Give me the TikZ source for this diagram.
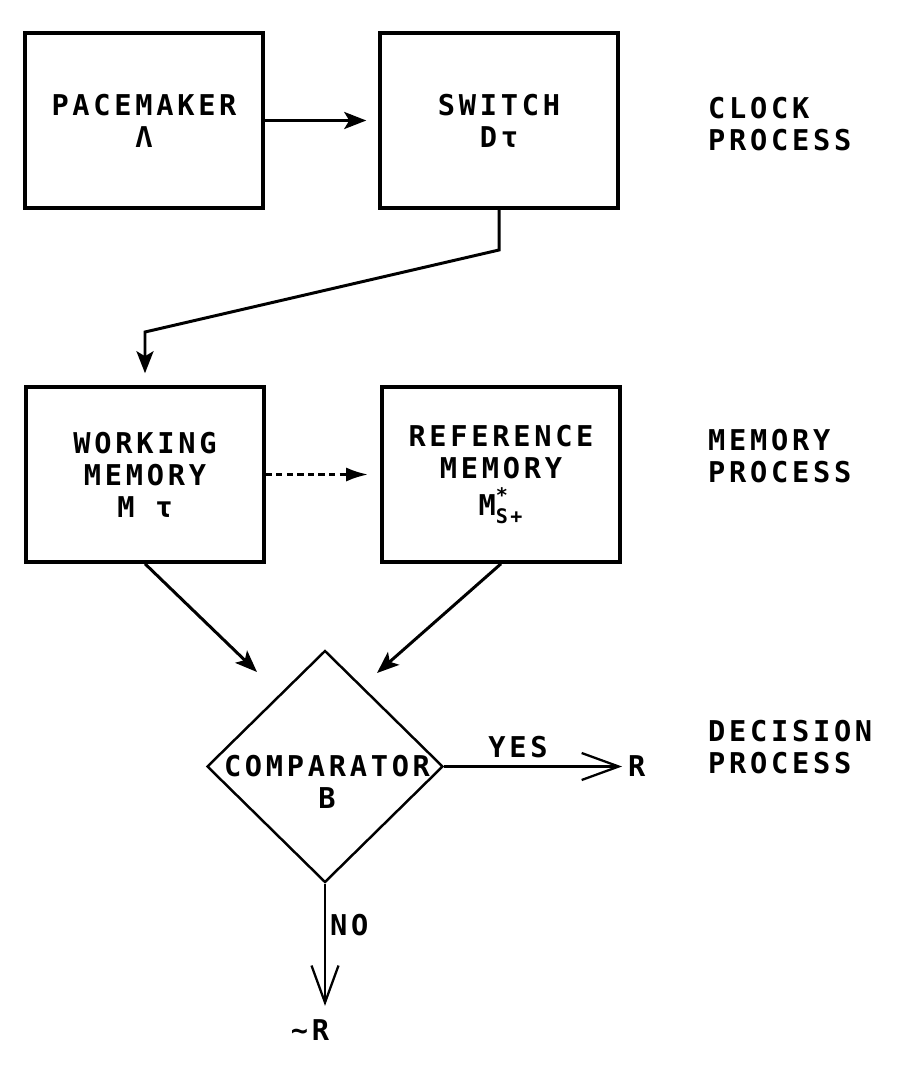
\documentclass[tikz,border=0pt]{standalone}
\usepackage{amsmath}
\usepackage{fontspec}
\setmainfont{DejaVu Sans Mono}[LetterSpace=13]
\usepackage{tikz}
\usetikzlibrary{arrows.meta,shapes.geometric,positioning}
\newcommand{\plotfont}{\fontsize{16.3}{18.2}\selectfont\bfseries}
\begin{document}
\begin{tikzpicture}[>=Stealth,
  box/.style={draw,line width=2pt,minimum width=4.76cm,minimum height=3.5cm,inner sep=0pt,align=center,font=\plotfont},
  lbl/.style={anchor=west,align=left,font=\plotfont},
  arr/.style={line width=1.7pt,-{Stealth[length=0.44cm,width=0.34cm,inset=0.1cm]}},
  barb/.style={line width=1.3pt,-{Straight Barb[length=0.74cm,width=0.54cm]}}]
\useasboundingbox (0,0) rectangle (18.04,-21.48);
\node[box] (pace) at (2.88,-2.41) {PACEMAKER\\Λ};
\node[box] (sw) at (9.98,-2.41) {SWITCH\\Dτ};
\node[lbl] (clk) at (14.04,-2.48) {CLOCK\\PROCESS};
\node[box] (wm) at (2.9,-9.49) {WORKING\\MEMORY\\M τ};
\node[box] (rm) at (10.02,-9.49) {REFERENCE\\MEMORY\\[3pt]$\text{M}^{\text{*}}_{\text{S+}}$};
\node[lbl] (mem) at (14.04,-9.13) {MEMORY\\PROCESS};
\node[draw,diamond,line width=1.4pt,minimum width=4.72cm,minimum height=4.64cm,inner sep=0pt] (cmp) at (6.5,-15.33) {};
\node[align=center,font=\plotfont] (cmptxt) at (6.54,-15.64) {COMPARATOR\\B};
\node[lbl] (dec) at (14.04,-14.95) {DECISION\\PROCESS};
\node[anchor=west,font=\plotfont] (yesR) at (12.44,-15.33) {R};
\node[font=\plotfont] (yes) at (10.36,-14.94) {YES};
\node[anchor=west,font=\plotfont] (no) at (6.48,-18.5) {NO};
\node[font=\plotfont] (notR) at (6.2,-20.6) {\textasciitilde R};
\coordinate (k1) at (9.98,-5.0);
\coordinate (k2) at (2.9,-6.64);
\coordinate (inL) at (5.14,-13.44);
\coordinate (inR) at (7.54,-13.46);
\draw[arr,shorten >=0.24cm] (pace) -- (sw);
\draw[arr,shorten >=0.24cm] (sw.south) -- (k1) -- (k2) -- (wm.north);
\draw[line width=1.7pt,dash pattern=on 3.5pt off 2.5pt,-{Latex[length=0.44cm,width=0.28cm]},shorten >=0.24cm] (wm) -- (rm);
\draw[arr] (wm.south) -- (inL);
\draw[arr] (rm.south) -- (inR);
\draw[barb] (cmp.east) -- (yesR.west);
\draw[barb,shorten >=0.15cm] (cmp.south) -- (cmp.south |- notR.north);
\end{tikzpicture}
\end{document}
